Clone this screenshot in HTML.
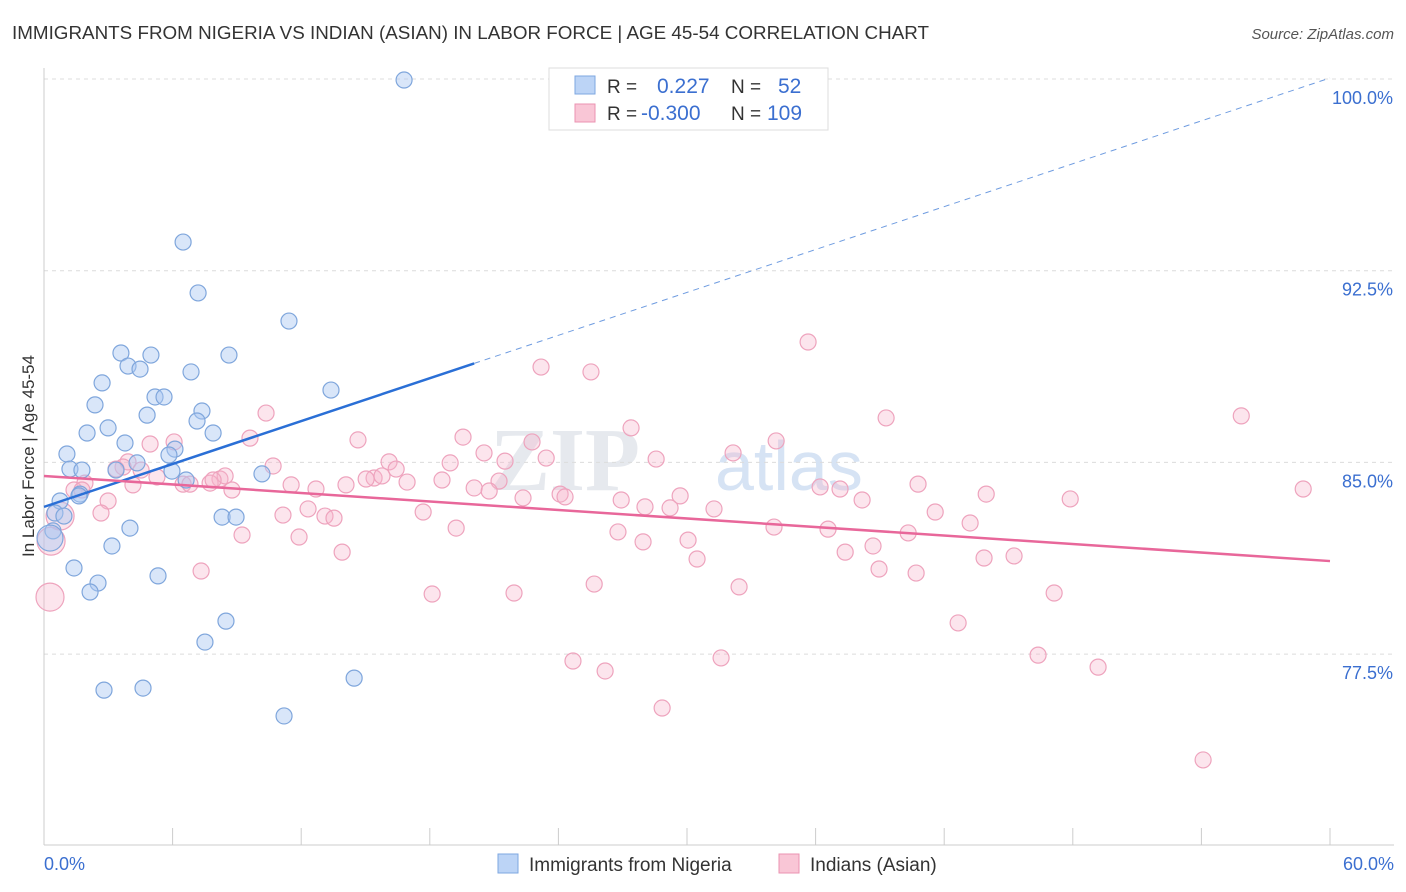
<!DOCTYPE html>
<html><head><meta charset="utf-8"><style>
body{margin:0;background:#fff;font-family:"Liberation Sans",sans-serif;}
#wrap{position:relative;width:1406px;height:892px;overflow:hidden;}
</style></head><body>
<div id="wrap">
<svg id="svg" width="1406" height="892">
<text x="12" y="39" font-size="18" fill="#333" textLength="917" lengthAdjust="spacingAndGlyphs">IMMIGRANTS FROM NIGERIA VS INDIAN (ASIAN) IN LABOR FORCE | AGE 45-54 CORRELATION CHART</text>
<text x="1394" y="39" font-size="15" fill="#555" font-style="italic" text-anchor="end">Source: ZipAtlas.com</text>
<text x="640" y="490" font-size="90" fill="#e6e9ee" text-anchor="end" font-family="Liberation Serif,serif" font-weight="bold">ZIP</text>
<text x="715" y="490" font-size="70" fill="#d6e3f4">atlas</text>
<text transform="translate(34,456) rotate(-90)" font-size="17" fill="#333" text-anchor="middle">In Labor Force | Age 45-54</text>
<g id="grid"></g><g id="axes"></g><g id="pts"></g><g id="trend"></g>
<g>
<rect x="549" y="68" width="279" height="62" fill="#fff" stroke="#ddd"/>
<rect x="575" y="76" width="20" height="18" fill="#bcd4f6" stroke="#7ea7e0"/>
<rect x="575" y="104" width="20" height="18" fill="#f9c6d6" stroke="#eb93b1"/>
<text x="607" y="93" font-size="19" fill="#333">R = <tspan fill="#3b6fd0" x="657" font-size="21">0.227</tspan><tspan fill="#333" x="731">N =</tspan><tspan fill="#3b6fd0" x="778" font-size="21">52</tspan></text>
<text x="607" y="120" font-size="19" fill="#333">R = <tspan fill="#3b6fd0" x="641" font-size="21">-0.300</tspan><tspan fill="#333" x="731">N =</tspan><tspan fill="#3b6fd0" x="767" font-size="21">109</tspan></text>
</g>
<g>
<rect x="498" y="854" width="20" height="19" fill="#bcd4f6" stroke="#7ea7e0"/>
<text x="529" y="871" font-size="19" fill="#333">Immigrants from Nigeria</text>
<rect x="779" y="854" width="20" height="19" fill="#f9c6d6" stroke="#eb93b1"/>
<text x="810" y="871" font-size="19" fill="#333">Indians (Asian)</text>
</g>
</svg></div>
<script>
const yTicks=[100,92.5,85,77.5];
const yTickLabels=["100.0%","92.5%","85.0%","77.5%"];
const xTickLabels=["0.0%","60.0%"];
const blueX=[16.8,6.49,7.19,11.43,3.59,4.99,8.63,3.92,4.48,6.86,2.71,13.39,5.18,5.6,2.38,7.37,4.81,7.14,2.99,2.01,7.89,3.78,6.11,5.83,1.07,4.34,1.21,1.77,3.36,5.97,10.17,6.63,1.68,0.75,1.63,0.51,0.93,0.42,8.31,8.96,4.01,0.28,3.17,1.4,5.32,2.52,2.15,8.49,7.51,2.8,4.62,14.47,11.2];
const blueY=[99.96,93.62,91.63,90.53,89.28,89.2,89.2,88.77,88.65,88.54,88.11,87.83,87.56,87.56,87.25,87.01,86.85,86.62,86.35,86.15,86.15,85.76,85.52,85.29,85.33,84.98,84.74,84.7,84.7,84.66,84.55,84.31,83.76,83.49,83.69,83.02,82.9,82.32,82.86,82.86,82.43,82.04,81.73,80.87,80.56,80.28,79.93,78.79,77.97,76.09,76.17,76.56,75.08];
const blueBig=[41];
const pinkX=[35.65,23.19,25.52,10.36,39.29,55.86,27.39,19.55,14.65,22.77,34.16,9.61,4.95,6.07,20.53,32.15,23.43,28.56,16.1,21.51,18.95,16.43,3.92,3.69,10.69,3.36,4.53,5.27,8.21,8.45,15.4,15.03,15.77,16.94,18.57,21.23,6.49,6.81,7.75,7.89,14.09,11.53,12.69,4.15,1.91,1.4,1.77,40.78,36.21,37.14,20.07,20.77,24.08,24.31,26.93,29.68,22.35,43.96,47.88,58.75,38.17,8.77,2.99,2.66,12.32,17.69,28.04,29.21,31.26,41.58,43.21,11.15,13.11,13.53,19.23,26.78,34.06,36.58,40.32,27.95,30.05,9.24,11.9,13.91,38.68,37.38,30.47,43.86,45.26,38.96,40.69,7.33,25.67,32.43,18.11,21.93,47.13,42.65,24.68,26.18,31.59,46.38,49.18,28.84,54.08,0.75,0.33,0.28];
const pinkY=[89.71,88.73,88.54,86.93,86.74,86.82,86.35,85.99,85.88,85.8,85.84,85.95,85.72,85.8,85.37,85.37,85.17,85.13,85.02,85.05,84.98,84.74,85.02,84.82,84.86,84.74,84.7,84.43,84.35,84.47,84.39,84.35,84.47,84.23,84.31,84.27,84.15,84.15,84.19,84.31,84.12,84.12,83.96,84.12,84.19,83.92,83.92,84.15,84.04,83.96,84,83.88,83.76,83.65,83.53,83.69,83.61,83.76,83.57,83.96,83.53,83.92,83.49,83.02,83.18,83.06,83.26,83.22,83.18,83.06,82.63,82.94,82.9,82.82,82.43,82.28,82.47,82.39,82.24,81.89,81.96,82.16,82.08,81.49,81.73,81.49,81.22,81.26,81.34,80.83,80.67,80.75,80.24,80.13,79.85,79.89,79.89,78.72,77.23,76.84,77.35,77.46,76.99,75.39,73.36,82.9,81.92,79.73];
const pinkBig=[105,106,107];
const blueTrend=[83.26,100.04,20.07];
const pinkTrend=[84.47,81.14];
const X=v=>44+v*(1286/60);
const Y=v=>79+(100-v)*25.56;
const NS="http://www.w3.org/2000/svg";
function mk(tag,parent,attrs){const e=document.createElementNS(NS,tag);for(const k in attrs)e.setAttribute(k,attrs[k]);document.getElementById(parent).appendChild(e);return e;}
yTicks.forEach((t,i)=>{
 const l=mk('line','grid',{x1:44,x2:1394,y1:Y(t),y2:Y(t),stroke:'#dcdcdc','stroke-dasharray':'4,4'});
 
 
 const tx=mk('text','grid',{x:1393,y:Y(t)+25,'font-size':18,fill:'#3b6fd0','text-anchor':'end'});
 tx.textContent=yTickLabels[i];
 
 
});
let a=mk('line','axes',{x1:44,x2:44,y1:68,y2:845,stroke:'#ccc'});


a=mk('line','axes',{x1:44,x2:1394,y1:845,y2:845,stroke:'#ccc'});


for(let v=0;v<=60;v+=6){const t=mk('line','axes',{x1:X(v),x2:X(v),y1:828,y2:845,stroke:'#ccc'});
 
 }
[[0,'start',44],[60,'end',1394]].forEach((d,i)=>{const t=mk('text','axes',{x:d[2],y:870,'font-size':18,fill:'#3b6fd0','text-anchor':d[1]});t.textContent=xTickLabels[i];
 
 });
pinkX.forEach((x,i)=>{const c=mk('circle','pts',{cx:X(x),cy:Y(pinkY[i]),r:pinkBig.includes(i)?14:8,fill:'rgba(247,180,202,0.35)',stroke:'#eea3bd','stroke-width':1.2});
 
 });
blueX.forEach((x,i)=>{const c=mk('circle','pts',{cx:X(x),cy:Y(blueY[i]),r:blueBig.includes(i)?13:8,fill:'rgba(170,200,242,0.45)',stroke:'#7fa6dc','stroke-width':1.2});
 
 });
const bAt=x=>blueTrend[0]+(blueTrend[1]-blueTrend[0])*x/60;
let t=mk('line','trend',{x1:X(0),y1:Y(bAt(0)),x2:X(blueTrend[2]),y2:Y(bAt(blueTrend[2])),stroke:'#2a6fd6','stroke-width':2.5});


t=mk('line','trend',{x1:X(blueTrend[2]),y1:Y(bAt(blueTrend[2])),x2:X(60),y2:Y(bAt(60)),stroke:'#6f9ce0','stroke-width':1,'stroke-dasharray':'6,5'});


t=mk('line','trend',{x1:X(0),y1:Y(pinkTrend[0]),x2:X(60),y2:Y(pinkTrend[1]),stroke:'#e8679a','stroke-width':2.5});


</script></body></html>
